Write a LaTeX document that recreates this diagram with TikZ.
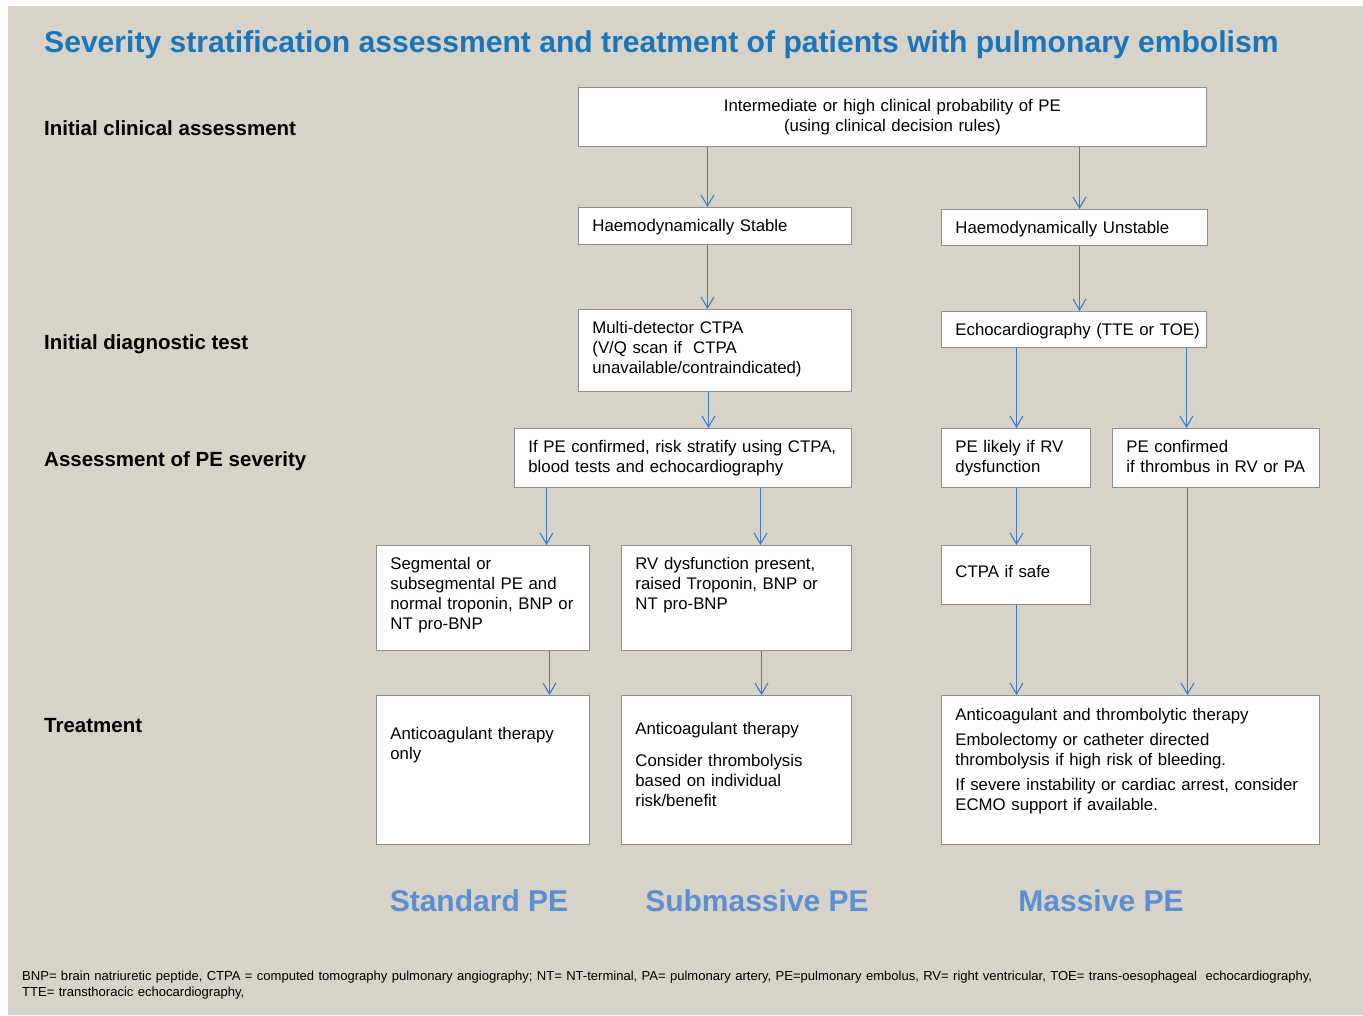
\documentclass[tikz,border=0pt]{standalone}
\usepackage{fontspec}
\setmainfont{Liberation Sans}
\usetikzlibrary{arrows.meta}
\definecolor{bgbeige}{HTML}{D7D3C9}
\definecolor{titleblue}{HTML}{1B75BB}
\definecolor{typeblue}{HTML}{5B8FD2}
\definecolor{flowblue}{HTML}{4279BF}
\definecolor{boxgray}{HTML}{8C8C8C}

\begin{document}
\begin{tikzpicture}[x=1pt, y=-1pt]
    % Stili
    \tikzset{box/.style={draw=boxgray, line width=0.8pt, fill=white, anchor=north west, inner sep=0pt, font=\fontsize{16.8}{20}\selectfont, text height=24pt}}
    \tikzset{lbox/.style={box, align=left, execute at begin node={\leftskip=14pt}}}
    \tikzset{flow/.style={-{Straight Barb[length=11pt,width=13pt]}, flowblue, line width=1.1pt}}
    \tikzset{stage/.style={anchor=base west, inner sep=0pt, font=\fontsize{20.5}{24}\selectfont\bfseries}}
    \tikzset{type/.style={anchor=base, inner sep=0pt, text=typeblue, font=\fontsize{30}{36}\selectfont\bfseries}}

    \useasboundingbox (0,0) rectangle (1363,1015);
    \fill[bgbeige] (8,6) rectangle (1363,1015);

    % Titolo
    \node[anchor=base west, inner sep=0pt, text=titleblue, font=\fontsize{30.1}{36}\selectfont\bfseries] (title) at (44,52.5) {Severity stratification assessment and treatment of patients with pulmonary embolism};

    % Fasi a sinistra
    \node[stage] (st_clin) at (44,135.5) {Initial clinical assessment};
    \node[stage] (st_diag) at (44,349.5) {Initial diagnostic test};
    \node[stage] (st_sev) at (44,466.5) {Assessment of PE severity};
    \node[stage] (st_treat) at (44,732.5) {Treatment};

    % Valutazione iniziale
    \node[box, align=center, text width=628pt, text depth=35pt] (prob) at (578,87) {Intermediate or high clinical probability of PE\\(using clinical decision rules)};
    \node[lbox, text width=273pt, text depth=13pt] (stable) at (578,207) {Haemodynamically Stable};
    \node[lbox, text width=266pt, text depth=12pt] (unstable) at (941,209) {Haemodynamically Unstable};

    % Test diagnostico
    \node[lbox, text width=273pt, text depth=58pt] (ctpa) at (578,309) {Multi-detector CTPA\\(V/Q scan if\ \ CTPA\\unavailable/contraindicated)};
    \node[lbox, text width=265pt, text depth=12pt] (echo) at (941,311) {Echocardiography (TTE or TOE)};

    % Gravita
    \node[lbox, text width=337pt, text depth=35pt] (stratify) at (514,428) {If PE confirmed, risk stratify using CTPA,\\blood tests and echocardiography};
    \node[lbox, text width=149pt, text depth=35pt] (likely) at (941,428) {PE likely if RV\\dysfunction};
    \node[lbox, text width=207pt, text depth=35pt] (thrombus) at (1112,428) {PE confirmed\\if thrombus in RV or PA};
    \node[lbox, text width=213pt, text depth=81pt] (segm) at (376,545) {Segmental or\\subsegmental PE and\\normal troponin, BNP or\\NT pro-BNP};
    \node[lbox, text width=230pt, text depth=81pt] (rvdys) at (621,545) {RV dysfunction present,\\raised Troponin, BNP or\\NT pro-BNP};
    \node[lbox, text width=149pt, text height=32pt, text depth=27pt] (safe) at (941,545) {CTPA if safe};

    % Trattamento
    \node[lbox, text width=213pt, text height=44pt, text depth=105pt] (tr_std) at (376,695) {Anticoagulant therapy\\only};
    \node[lbox, text width=230pt, text height=39pt, text depth=110pt] (tr_sub) at (621,695) {Anticoagulant therapy\\[12pt]Consider thrombolysis\\based on individual\\risk/benefit};
    \node[lbox, text width=378pt, text height=25pt, text depth=124pt] (tr_mas) at (941,695) {Anticoagulant and thrombolytic therapy\\[5pt]Embolectomy or catheter directed\\thrombolysis if high risk of bleeding.\\[5pt]If severe instability or cardiac arrest, consider\\ECMO support if available.};

    % Frecce
    \draw[flow] ([xshift=129.5pt]prob.south west) -- ([xshift=129.5pt]stable.north west);
    \draw[flow] ([xshift=501.5pt]prob.south west) -- ([xshift=138.5pt]unstable.north west);
    \draw[flow] ([xshift=129.5pt]stable.south west) -- ([xshift=129.5pt]ctpa.north west);
    \draw[flow] ([xshift=138.5pt]unstable.south west) -- ([xshift=138.5pt]echo.north west);
    \draw[flow] ([xshift=130.5pt]ctpa.south west) -- ([xshift=194.5pt]stratify.north west);
    \draw[flow] ([xshift=75.5pt]echo.south west) -- ([xshift=75.5pt]likely.north west);
    \draw[flow] ([xshift=245.5pt]echo.south west) -- ([xshift=74.5pt]thrombus.north west);
    \draw[flow] ([xshift=32.5pt]stratify.south west) -- ([xshift=170.5pt]segm.north west);
    \draw[flow] ([xshift=246.5pt]stratify.south west) -- ([xshift=139.5pt]rvdys.north west);
    \draw[flow] ([xshift=75.5pt]likely.south west) -- ([xshift=75.5pt]safe.north west);
    \draw[flow] ([xshift=173.5pt]segm.south west) -- ([xshift=173.5pt]tr_std.north west);
    \draw[flow] ([xshift=140.5pt]rvdys.south west) -- ([xshift=140.5pt]tr_sub.north west);
    \draw[flow] ([xshift=75.5pt]safe.south west) -- ([xshift=75.5pt]tr_mas.north west);
    \draw[flow] ([xshift=75.5pt]thrombus.south west) -- ([xshift=246.5pt]tr_mas.north west);

    % Tipi di EP
    \node[type] (t_std) at (479,911) {Standard PE};
    \node[type] (t_sub) at (757,911) {Submassive PE};
    \node[type] (t_mas) at (1101,911) {Massive PE};

    % Note
    \node[anchor=base west, inner sep=0pt, text width=1335pt, align=left, font=\fontsize{13.05}{16}\selectfont] (notes) at (22,980.5) {BNP= brain natriuretic peptide, CTPA = computed tomography pulmonary angiography; NT= NT-terminal, PA= pulmonary artery, PE=pulmonary embolus, RV= right ventricular, TOE= trans-oesophageal\ \ echocardiography,\\TTE= transthoracic echocardiography,};
\end{tikzpicture}
\end{document}
